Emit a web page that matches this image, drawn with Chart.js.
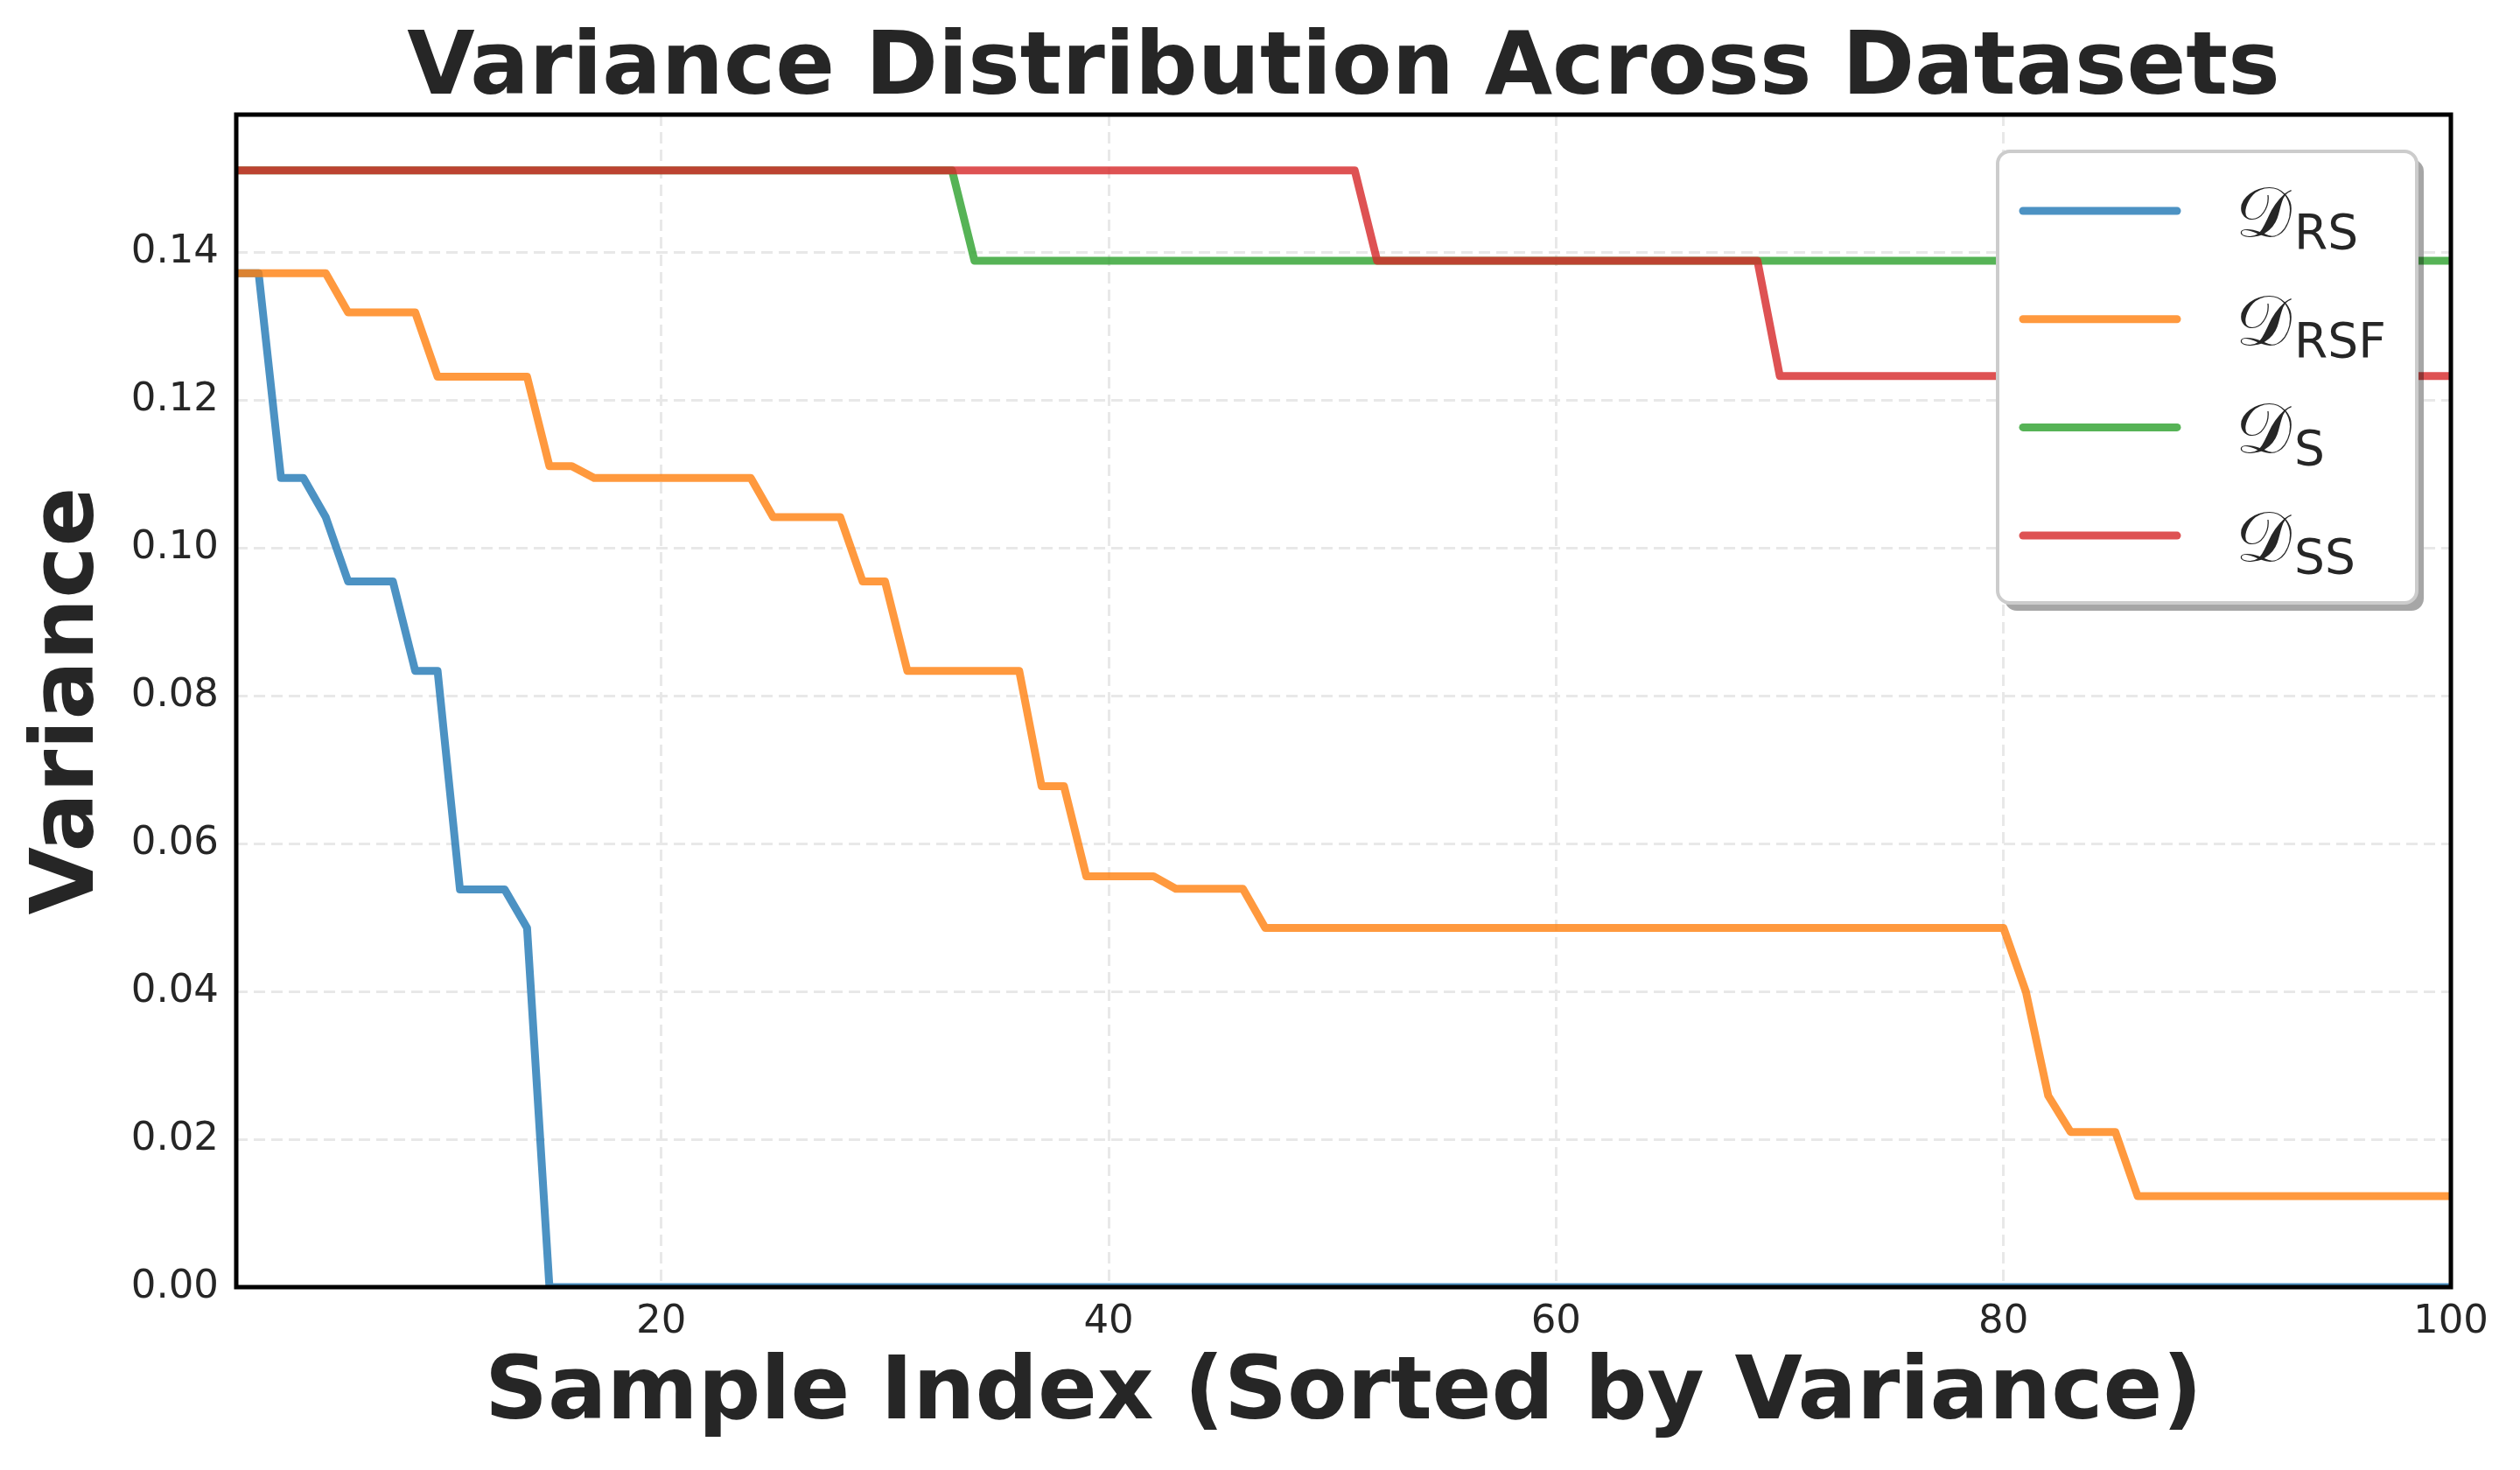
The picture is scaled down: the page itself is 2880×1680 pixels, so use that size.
<!DOCTYPE html>
<html>
<head>
<meta charset="utf-8">
<script src="https://cdn.jsdelivr.net/npm/chart.js@4.4.1/dist/chart.umd.min.js"></script>
<style>
  html, body { margin: 0; padding: 0; background: #ffffff; }
  canvas { display: block; }
</style>
</head>
<body>
<canvas id="varianceChart" width="2880" height="1680"></canvas>
<script>
// x axis: sample index, sorted by variance
const sampleIndex = Array.from({length: 100}, (_, i) => i + 1);
const xTicks = [20, 40, 60, 80, 100];
const yTicks = [0, 0.02, 0.04, 0.06, 0.08, 0.10, 0.12, 0.14];
const seriesNames = ['RS', 'RSF', 'S', 'SS'];

// variance per sample
const dRS = [
  0.1372, 0.1372, 0.1095, 0.1095, 0.1042, 0.0955, 0.0955, 0.0955, 0.0834, 0.0834,
  0.0538, 0.0538, 0.0538, 0.0486, 0, 0, 0, 0, 0, 0,
  0, 0, 0, 0, 0, 0, 0, 0, 0, 0,
  0, 0, 0, 0, 0, 0, 0, 0, 0, 0,
  0, 0, 0, 0, 0, 0, 0, 0, 0, 0,
  0, 0, 0, 0, 0, 0, 0, 0, 0, 0,
  0, 0, 0, 0, 0, 0, 0, 0, 0, 0,
  0, 0, 0, 0, 0, 0, 0, 0, 0, 0,
  0, 0, 0, 0, 0, 0, 0, 0, 0, 0,
  0, 0, 0, 0, 0, 0, 0, 0, 0, 0
];
const dRSF = [
  0.1372, 0.1372, 0.1372, 0.1372, 0.1372, 0.1319, 0.1319, 0.1319, 0.1319, 0.1232,
  0.1232, 0.1232, 0.1232, 0.1232, 0.1111, 0.1111, 0.1095, 0.1095, 0.1095, 0.1095,
  0.1095, 0.1095, 0.1095, 0.1095, 0.1042, 0.1042, 0.1042, 0.1042, 0.0955, 0.0955,
  0.0834, 0.0834, 0.0834, 0.0834, 0.0834, 0.0834, 0.0678, 0.0678, 0.0556, 0.0556,
  0.0556, 0.0556, 0.0539, 0.0539, 0.0539, 0.0539, 0.0486, 0.0486, 0.0486, 0.0486,
  0.0486, 0.0486, 0.0486, 0.0486, 0.0486, 0.0486, 0.0486, 0.0486, 0.0486, 0.0486,
  0.0486, 0.0486, 0.0486, 0.0486, 0.0486, 0.0486, 0.0486, 0.0486, 0.0486, 0.0486,
  0.0486, 0.0486, 0.0486, 0.0486, 0.0486, 0.0486, 0.0486, 0.0486, 0.0486, 0.0486,
  0.0400, 0.0259, 0.0210, 0.0210, 0.0210, 0.0123, 0.0123, 0.0123, 0.0123, 0.0123,
  0.0123, 0.0123, 0.0123, 0.0123, 0.0123, 0.0123, 0.0123, 0.0123, 0.0123, 0.0123
];
const dS = [
  0.1511, 0.1511, 0.1511, 0.1511, 0.1511, 0.1511, 0.1511, 0.1511, 0.1511, 0.1511,
  0.1511, 0.1511, 0.1511, 0.1511, 0.1511, 0.1511, 0.1511, 0.1511, 0.1511, 0.1511,
  0.1511, 0.1511, 0.1511, 0.1511, 0.1511, 0.1511, 0.1511, 0.1511, 0.1511, 0.1511,
  0.1511, 0.1511, 0.1511, 0.1389, 0.1389, 0.1389, 0.1389, 0.1389, 0.1389, 0.1389,
  0.1389, 0.1389, 0.1389, 0.1389, 0.1389, 0.1389, 0.1389, 0.1389, 0.1389, 0.1389,
  0.1389, 0.1389, 0.1389, 0.1389, 0.1389, 0.1389, 0.1389, 0.1389, 0.1389, 0.1389,
  0.1389, 0.1389, 0.1389, 0.1389, 0.1389, 0.1389, 0.1389, 0.1389, 0.1389, 0.1389,
  0.1389, 0.1389, 0.1389, 0.1389, 0.1389, 0.1389, 0.1389, 0.1389, 0.1389, 0.1389,
  0.1389, 0.1389, 0.1389, 0.1389, 0.1389, 0.1389, 0.1389, 0.1389, 0.1389, 0.1389,
  0.1389, 0.1389, 0.1389, 0.1389, 0.1389, 0.1389, 0.1389, 0.1389, 0.1389, 0.1389
];
const dSS = [
  0.1511, 0.1511, 0.1511, 0.1511, 0.1511, 0.1511, 0.1511, 0.1511, 0.1511, 0.1511,
  0.1511, 0.1511, 0.1511, 0.1511, 0.1511, 0.1511, 0.1511, 0.1511, 0.1511, 0.1511,
  0.1511, 0.1511, 0.1511, 0.1511, 0.1511, 0.1511, 0.1511, 0.1511, 0.1511, 0.1511,
  0.1511, 0.1511, 0.1511, 0.1511, 0.1511, 0.1511, 0.1511, 0.1511, 0.1511, 0.1511,
  0.1511, 0.1511, 0.1511, 0.1511, 0.1511, 0.1511, 0.1511, 0.1511, 0.1511, 0.1511,
  0.1511, 0.1389, 0.1389, 0.1389, 0.1389, 0.1389, 0.1389, 0.1389, 0.1389, 0.1389,
  0.1389, 0.1389, 0.1389, 0.1389, 0.1389, 0.1389, 0.1389, 0.1389, 0.1389, 0.1233,
  0.1233, 0.1233, 0.1233, 0.1233, 0.1233, 0.1233, 0.1233, 0.1233, 0.1233, 0.1233,
  0.1233, 0.1233, 0.1233, 0.1233, 0.1233, 0.1233, 0.1233, 0.1233, 0.1233, 0.1233,
  0.1233, 0.1233, 0.1233, 0.1233, 0.1233, 0.1233, 0.1233, 0.1233, 0.1233, 0.1233
];

const lineColors = ['rgba(31,119,180,0.8)', 'rgba(255,127,14,0.8)', 'rgba(44,160,44,0.8)', 'rgba(214,39,40,0.8)'];
const textColor = '#262626';
const fontFamily = "'DejaVu Sans', sans-serif";

// turn a value list into {x, y} points
function toPoints(values){
    return values.map((v, i) => ({x: sampleIndex[i], y: v}));
}

// build one line dataset
function makeLine(values, idx){
    return {
        label: seriesNames[idx],
        data: toPoints(values),
        borderColor: lineColors[idx],
        borderWidth: 9,
        borderCapStyle: 'round',
        borderJoinStyle: 'round',
        pointRadius: 0,
        tension: 0,
        fill: false,
        order: 4 - idx   // last series on top, like matplotlib
    };
}

//black frame round the plot + legend box with subscripts
const frameAndLegend = {
    id: 'frameAndLegend',
    afterDatasetsDraw(chart){
        const {ctx, chartArea: a} = chart;
        ctx.save();
        ctx.strokeStyle = '#000000';
        ctx.lineWidth = 5;
        ctx.strokeRect(a.left, a.top, a.right - a.left, a.bottom - a.top);
        ctx.restore();
    },
    afterDraw(chart){
        const {ctx, chartArea: a} = chart;
        const w = 479, h = 516;
        const x0 = a.right - 39 - w;
        const y0 = a.top + 42;
        ctx.save();
        ctx.beginPath();
        ctx.roundRect(x0 + 8, y0 + 9, w, h, 14);
        ctx.fillStyle = 'rgba(0,0,0,0.35)';
        ctx.fill();
        ctx.beginPath();
        ctx.roundRect(x0, y0, w, h, 14);
        ctx.fillStyle = '#ffffff';
        ctx.fill();
        ctx.lineWidth = 4;
        ctx.strokeStyle = '#cccccc';
        ctx.stroke();

        seriesNames.forEach((name, i) => {
            const yy = y0 + 68 + i * 123.7;
            ctx.beginPath();
            ctx.moveTo(x0 + 29, yy);
            ctx.lineTo(x0 + 205, yy);
            ctx.lineWidth = 9;
            ctx.lineCap = 'round';
            ctx.strokeStyle = lineColors[i];
            ctx.stroke();

            ctx.fillStyle = textColor;
            ctx.textBaseline = 'alphabetic';
            ctx.textAlign = 'left';
            ctx.font = "80px 'DejaVu Serif', serif";
            ctx.fillText('\u{1D49F}', x0 + 272, yy + 29);
            const dw = ctx.measureText('\u{1D49F}').width;
            ctx.font = "55px " + fontFamily;
            ctx.fillText(name, x0 + 272 + dw + 3, yy + 43);
        });
        ctx.restore();
    }
};

const ctx = document.getElementById('varianceChart').getContext('2d');
new Chart(ctx, {
    type: 'line',
    data: {
        datasets: [makeLine(dRS, 0), makeLine(dRSF, 1), makeLine(dS, 2), makeLine(dSS, 3)]
    },
    options: {
        responsive: false,
        animation: false,
        devicePixelRatio: 1,
        layout: { padding: { left: 0, right: 79, top: 0, bottom: 0 } },
        plugins: {
            legend: { display: false },
            tooltip: { enabled: false },
            title: {
                display: true,
                fullSize: false,
                text: 'Variance Distribution Across Datasets',
                color: textColor,
                font: { family: fontFamily, size: 100, weight: 'bold', lineHeight: 1 },
                padding: { top: 31, bottom: 0 }
            }
        },
        scales: {
            x: {
                type: 'linear',
                min: 1,
                max: 100,
                afterBuildTicks: s => { s.ticks = xTicks.map(v => ({value: v})); },
                afterFit: s => { s.height = 209; },
                ticks: {
                    color: textColor,
                    padding: 18,
                    maxRotation: 0,
                    font: { family: fontFamily, size: 45, lineHeight: 1 },
                    callback: v => String(v)
                },
                grid: { color: '#e8e8e8', lineWidth: 3, drawTicks: false },
                border: { display: false, dash: [13, 7] },
                title: {
                    display: true,
                    text: 'Sample Index (Sorted by Variance)',
                    color: textColor,
                    font: { family: fontFamily, size: 100, weight: 'bold', lineHeight: 1 },
                    padding: { top: 0, bottom: 35 }
                }
            },
            y: {
                min: 0,
                max: 0.15866,
                afterBuildTicks: s => { s.ticks = yTicks.map(v => ({value: v})); },
                afterFit: s => { s.width = 270; },
                ticks: {
                    color: textColor,
                    padding: 20,
                    font: { family: fontFamily, size: 45, lineHeight: 1 },
                    callback: v => Number(v).toFixed(2)
                },
                grid: { color: '#e8e8e8', lineWidth: 3, drawTicks: false },
                border: { display: false, dash: [13, 7] },
                title: {
                    display: true,
                    text: 'Variance',
                    color: textColor,
                    font: { family: fontFamily, size: 100, weight: 'bold', lineHeight: 1 },
                    padding: { top: 30, bottom: 0 }
                }
            }
        }
    },
    plugins: [frameAndLegend]
});
</script>
</body>
</html>
